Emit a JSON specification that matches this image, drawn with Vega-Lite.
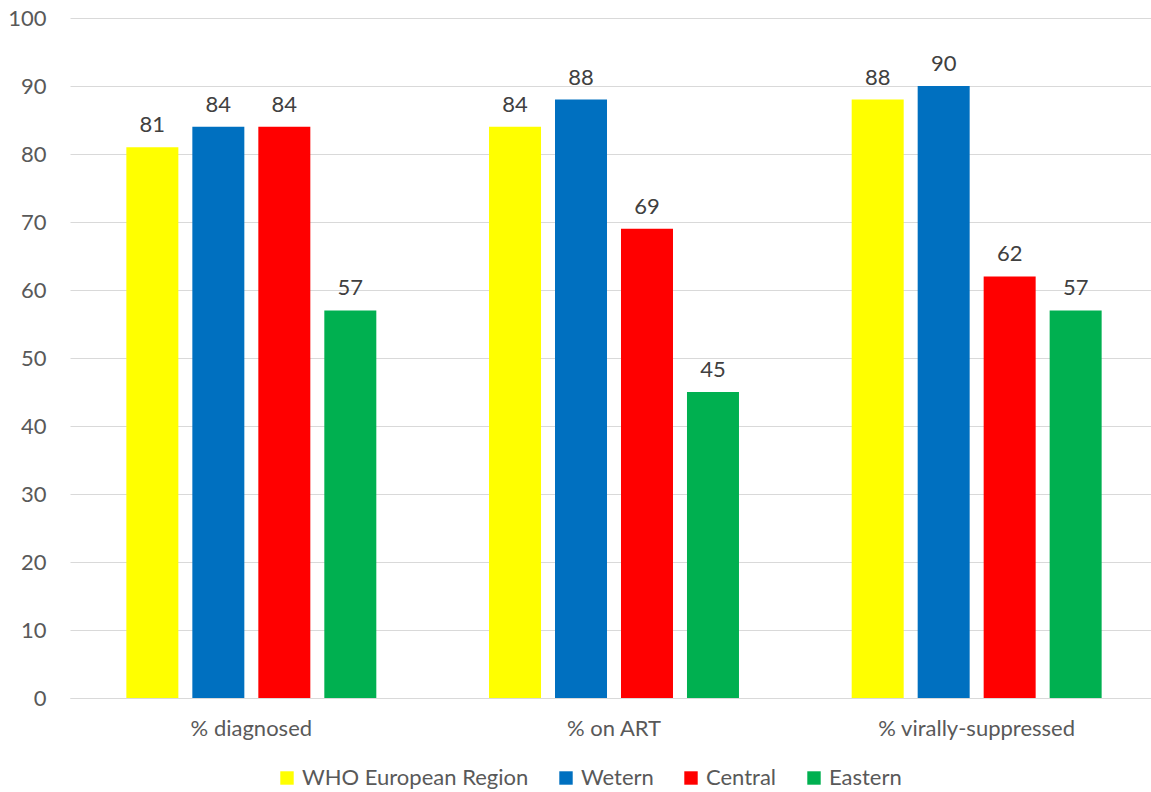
{
  "$schema": "https://vega.github.io/schema/vega-lite/v6.json",
  "width": 1081,
  "height": 680,
  "autosize": {"type": "none"},
  "padding": {"left": 70, "top": 18, "right": 0, "bottom": 94},
  "background": "white",
  "config": {
    "font": "Lato",
    "view": {"stroke": null},
    "axis": {"labelFont": "Lato", "labelColor": "#595959", "labelFontSize": 22}
  },
  "data": {
    "values": [
      {"measure": "% diagnosed", "region": "WHO European Region", "value": 81},
      {"measure": "% diagnosed", "region": "Wetern", "value": 84},
      {"measure": "% diagnosed", "region": "Central", "value": 84},
      {"measure": "% diagnosed", "region": "Eastern", "value": 57},
      {"measure": "% on ART", "region": "WHO European Region", "value": 84},
      {"measure": "% on ART", "region": "Wetern", "value": 88},
      {"measure": "% on ART", "region": "Central", "value": 69},
      {"measure": "% on ART", "region": "Eastern", "value": 45},
      {"measure": "% virally-suppressed", "region": "WHO European Region", "value": 88},
      {"measure": "% virally-suppressed", "region": "Wetern", "value": 90},
      {"measure": "% virally-suppressed", "region": "Central", "value": 62},
      {"measure": "% virally-suppressed", "region": "Eastern", "value": 57}
    ]
  },
  "encoding": {
    "x": {
      "field": "measure", "type": "nominal",
      "sort": ["% diagnosed", "% on ART", "% virally-suppressed"],
      "scale": {"paddingInner": 0, "paddingOuter": 0, "range": [0, 1088]},
      "axis": {"title": null, "labelAngle": 0, "ticks": false, "domain": true, "domainColor": "#d9d9d9", "labelPadding": 20, "grid": false, "labelFontSize": 22, "labelLimit": 400}
    },
    "xOffset": {
      "field": "region", "type": "nominal",
      "sort": ["WHO European Region", "Wetern", "Central", "Eastern"],
      "scale": {"paddingInner": 0.212, "paddingOuter": 0.854}
    },
    "y": {
      "field": "value", "type": "quantitative",
      "scale": {"domain": [0, 100]},
      "axis": {"title": null, "values": [0,10,20,30,40,50,60,70,80,90,100], "labelOverlap": false, "ticks": false, "domain": false, "gridColor": "#d9d9d9", "gridWidth": 1, "labelPadding": 24, "labelFontSize": 22}
    }
  },
  "layer": [
    {
      "mark": {"type": "bar"},
      "encoding": {
        "color": {
          "field": "region", "type": "nominal",
          "sort": ["WHO European Region", "Wetern", "Central", "Eastern"],
          "scale": {"domain": ["WHO European Region", "Wetern", "Central", "Eastern"], "range": ["#FFFF00", "#0070C0", "#FF0000", "#00B050"]},
          "legend": {
            "title": null, "orient": "none", "direction": "horizontal",
            "legendX": 206, "legendY": 749,
            "symbolType": "square", "symbolSize": 180, "symbolStrokeWidth": 0,
            "labelFontSize": 22, "labelColor": "#595959", "labelFont": "Lato", "labelLimit": 400,
            "columnPadding": 26, "labelOffset": 4
          }
        }
      }
    },
    {
      "mark": {"type": "text", "dy": -22, "fontSize": 22, "fill": "#404040", "font": "Lato"},
      "encoding": {"text": {"field": "value", "type": "quantitative"}}
    }
  ]
}
